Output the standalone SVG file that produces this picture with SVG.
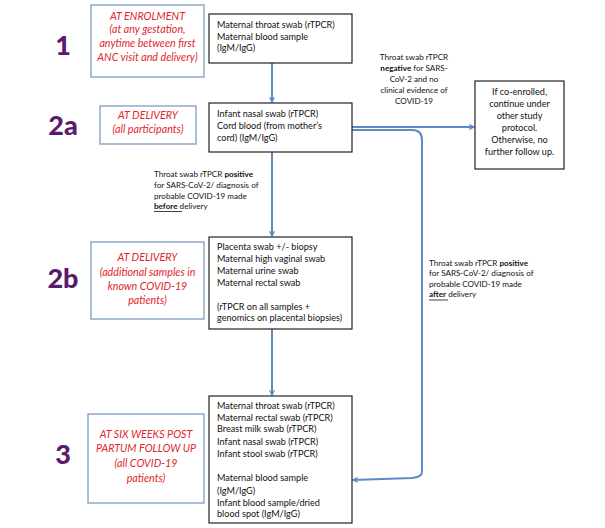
<svg xmlns="http://www.w3.org/2000/svg" width="605" height="528" viewBox="0 0 605 528">
<style>
.bk{fill:#fff;stroke:#222;stroke-width:1.2}
.bl{fill:#fff;stroke:#7f9cc4;stroke-width:1.3}
.t{font-family:Lato,"Noto Sans",sans-serif;font-size:9.1px;fill:#111}
.r{font-family:Lato,"Noto Sans",sans-serif;font-size:10.7px;font-style:italic;fill:#e0262b;text-anchor:middle}
.n{font-family:Lato,"Open Sans",sans-serif;font-size:27px;font-weight:900;fill:#5c1a6e;text-anchor:middle}
.l{font-family:Lato,"Noto Sans",sans-serif;font-size:8.1px;fill:#111}
.b{font-weight:bold}
.c{fill:none;stroke:#5b8ac5;stroke-width:2}
</style>
<defs>
<marker id="ah" viewBox="0 0 10 10" refX="9" refY="5" markerWidth="6" markerHeight="6" orient="auto" markerUnits="userSpaceOnUse">
<path d="M1,1 L9,5 L1,9" fill="none" stroke="#5b8ac5" stroke-width="2"/>
</marker>
</defs>
<rect width="605" height="528" fill="#fff"/>
<g id="connectors">
<path class="c" d="M272,63 V102" marker-end="url(#ah)"/>
<path class="c" d="M272,152 V236" marker-end="url(#ah)"/>
<path class="c" d="M272,329 V395" marker-end="url(#ah)"/>
<path class="c" d="M352,127 H474" marker-end="url(#ah)"/>
<path class="c" d="M352,130 H412 Q422,130 422,140 V472 Q422,477 412,478 L353,480" marker-end="url(#ah)"/>
</g>
<g id="label-negative">
<text class="l" text-anchor="middle" x="414" y="60">Throat swab rTPCR</text>
<text class="l" text-anchor="middle" x="414" y="71"><tspan class="b">negative</tspan> for SARS-</text>
<text class="l" text-anchor="middle" x="414" y="82">CoV-2 and no</text>
<text class="l" text-anchor="middle" x="414" y="93">clinical evidence of</text>
<text class="l" text-anchor="middle" x="414" y="104">COVID-19</text>
</g>
<g id="label-before">
<text class="l" x="154" y="177">Throat swab rTPCR <tspan class="b">positive</tspan></text>
<text class="l" x="154" y="188">for SARS-CoV-2/ diagnosis of</text>
<text class="l" x="154" y="199">probable COVID-19 made</text>
<text class="l" x="154" y="209"><tspan class="b">before</tspan> delivery</text>
<line x1="154" y1="211.5" x2="182" y2="211.5" stroke="#111" stroke-width="0.8"/>
</g>
<g id="label-after">
<text class="l" x="429" y="266">Throat swab rTPCR <tspan class="b">positive</tspan></text>
<text class="l" x="429" y="276">for SARS-CoV-2/ diagnosis of</text>
<text class="l" x="429" y="287">probable COVID-19 made</text>
<text class="l" x="429" y="297"><tspan class="b">after</tspan> delivery</text>
<line x1="429" y1="300" x2="448" y2="300" stroke="#111" stroke-width="0.8"/>
</g>
<g id="step1">
<text class="n" x="63" y="55">1</text>
<rect class="bl" x="91" y="5" width="113" height="72"/>
<text class="r" x="147.5" y="20">AT ENROLMENT</text>
<text class="r" x="147.5" y="33">(at any gestation,</text>
<text class="r" x="147.5" y="47">anytime between first</text>
<text class="r" x="147.5" y="61">ANC visit and delivery)</text>
</g>
<g id="box1">
<rect class="bk" x="209" y="14" width="143" height="49"/>
<text class="t" x="217" y="28">Maternal throat swab (rTPCR)</text>
<text class="t" x="217" y="39.5">Maternal blood sample</text>
<text class="t" x="217" y="51">(IgM/IgG)</text>
</g>
<g id="step2a">
<text class="n" x="63" y="135">2a</text>
<rect class="bl" x="100" y="106" width="96" height="38"/>
<text class="r" x="148" y="119">AT DELIVERY</text>
<text class="r" x="148" y="133">(all participants)</text>
</g>
<g id="box2a">
<rect class="bk" x="209" y="103" width="143" height="49"/>
<text class="t" x="217" y="117">Infant nasal swab (rTPCR)</text>
<text class="t" x="217" y="129">Cord blood (from mother’s</text>
<text class="t" x="217" y="141">cord) (IgM/IgG)</text>
</g>
<g id="box-other">
<rect class="bk" x="475" y="81" width="89" height="88"/>
<text class="t" text-anchor="middle" x="519.5" y="95">If co-enrolled,</text>
<text class="t" text-anchor="middle" x="519.5" y="107">continue under</text>
<text class="t" text-anchor="middle" x="519.5" y="119">other study</text>
<text class="t" text-anchor="middle" x="519.5" y="131">protocol.</text>
<text class="t" text-anchor="middle" x="519.5" y="143">Otherwise, no</text>
<text class="t" text-anchor="middle" x="519.5" y="155">further follow up.</text>
</g>
<g id="step2b">
<text class="n" x="63" y="288">2b</text>
<rect class="bl" x="91" y="242" width="113" height="77"/>
<text class="r" x="147.5" y="261">AT DELIVERY</text>
<text class="r" x="147.5" y="276">(additional samples in</text>
<text class="r" x="147.5" y="290">known COVID-19</text>
<text class="r" x="147.5" y="304">patients)</text>
</g>
<g id="box2b">
<rect class="bk" x="209" y="237" width="143" height="92"/>
<text class="t" x="217" y="250">Placenta swab +/- biopsy</text>
<text class="t" x="217" y="262">Maternal high vaginal swab</text>
<text class="t" x="217" y="273.5">Maternal urine swab</text>
<text class="t" x="217" y="286">Maternal rectal swab</text>
<text class="t" x="217" y="310">(rTPCR on all samples +</text>
<text class="t" x="217" y="320.5">genomics on placental biopsies)</text>
</g>
<g id="step3">
<text class="n" x="63" y="464">3</text>
<rect class="bl" x="88" y="414" width="116" height="89"/>
<text class="r" x="146" y="438">AT SIX WEEKS POST</text>
<text class="r" x="146" y="452">PARTUM FOLLOW UP</text>
<text class="r" x="146" y="467">(all COVID-19</text>
<text class="r" x="146" y="482">patients)</text>
</g>
<g id="box3">
<rect class="bk" x="209" y="396" width="143" height="127"/>
<text class="t" x="217" y="409">Maternal throat swab (rTPCR)</text>
<text class="t" x="217" y="421">Maternal rectal swab (rTPCR)</text>
<text class="t" x="217" y="432">Breast milk swab (rTPCR)</text>
<text class="t" x="217" y="445">Infant nasal swab (rTPCR)</text>
<text class="t" x="217" y="457">Infant stool swab (rTPCR)</text>
<text class="t" x="217" y="481">Maternal blood sample</text>
<text class="t" x="217" y="494">(IgM/IgG)</text>
<text class="t" x="217" y="505.5">Infant blood sample/dried</text>
<text class="t" x="217" y="517">blood spot (IgM/IgG)</text>
</g>
</svg>
